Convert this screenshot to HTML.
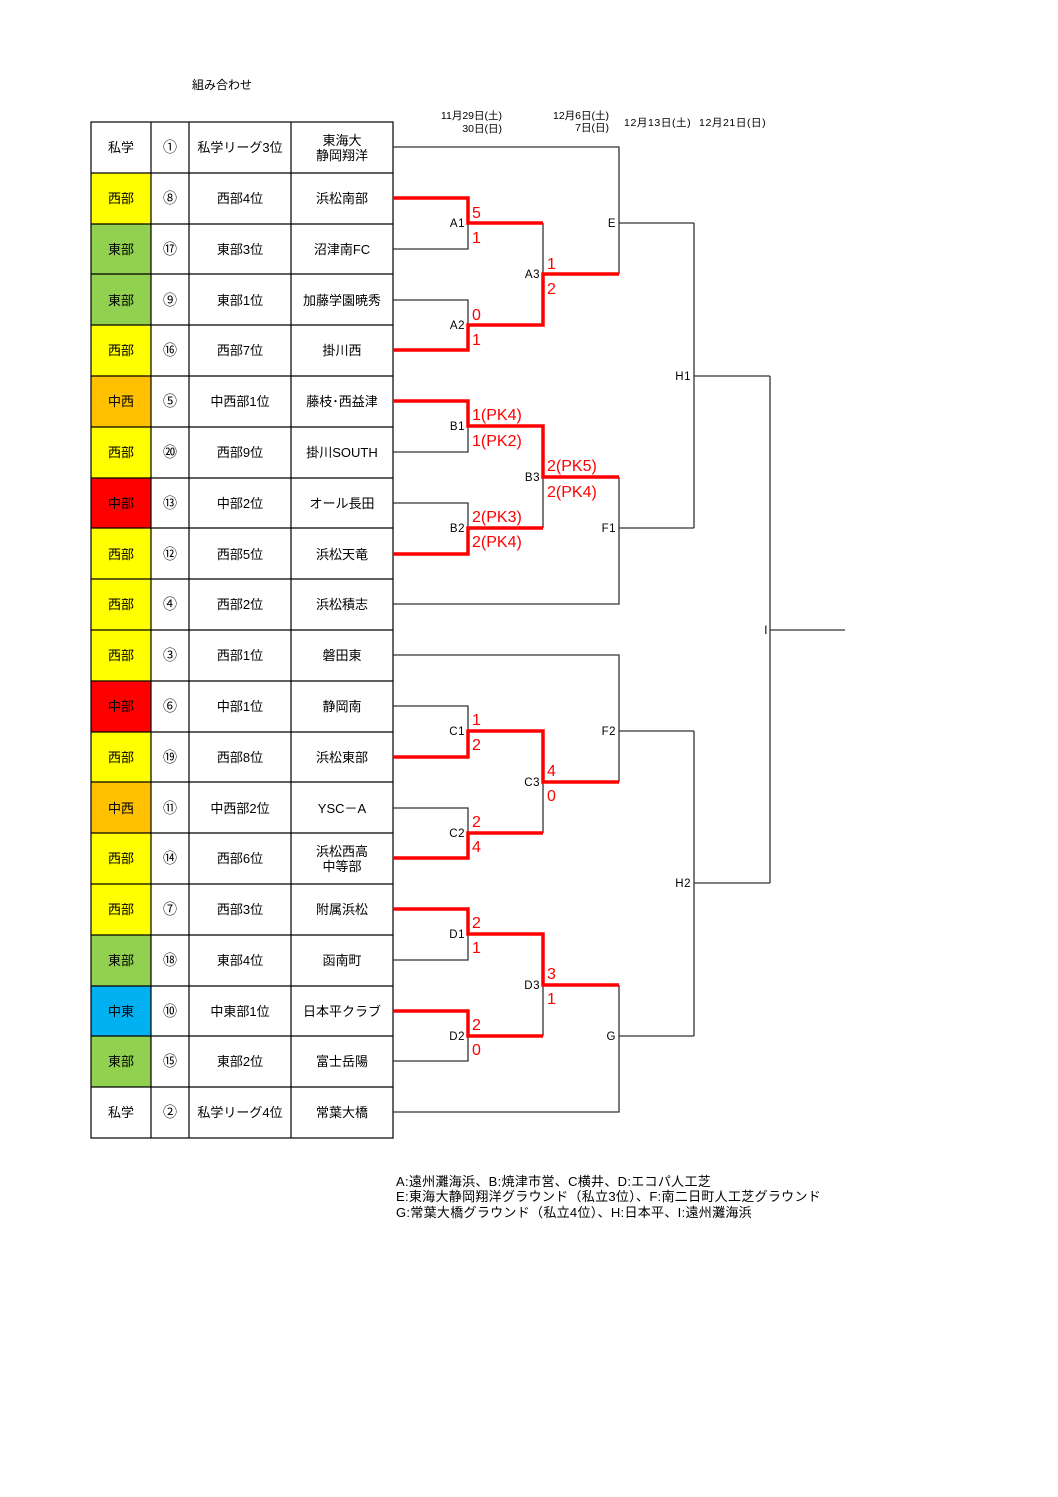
<!DOCTYPE html>
<html><head><meta charset="utf-8"><style>
body{margin:0;background:#fff;}
svg{display:block;font-family:"Liberation Sans","Noto Sans CJK JP",sans-serif;}
.cj{font-family:"Noto Sans CJK JP",sans-serif;}
</style></head><body>
<svg width="1058" height="1497" viewBox="0 0 1058 1497" xmlns="http://www.w3.org/2000/svg">
<rect width="1058" height="1497" fill="#fff"/>
<text x="192" y="89" font-size="12">組み合わせ</text>
<g font-size="10.5" fill="#000">
<text x="502" y="119" text-anchor="end">11月29日(土)</text>
<text x="502" y="132" text-anchor="end">30日(日)</text>
<text x="609" y="119" text-anchor="end">12月6日(土)</text>
<text x="609" y="131" text-anchor="end">7日(日)</text>
<text x="624" y="126" letter-spacing="0.6">12月13日(土)</text>
<text x="699" y="126" letter-spacing="0.6">12月21日(日)</text>
</g>
<g>
<rect x="91" y="173" width="60" height="51" fill="#ffff00"/>
<rect x="91" y="224" width="60" height="50" fill="#92d050"/>
<rect x="91" y="274" width="60" height="51" fill="#92d050"/>
<rect x="91" y="325" width="60" height="51" fill="#ffff00"/>
<rect x="91" y="376" width="60" height="51" fill="#ffc000"/>
<rect x="91" y="427" width="60" height="51" fill="#ffff00"/>
<rect x="91" y="478" width="60" height="50" fill="#ff0000"/>
<rect x="91" y="528" width="60" height="51" fill="#ffff00"/>
<rect x="91" y="579" width="60" height="51" fill="#ffff00"/>
<rect x="91" y="630" width="60" height="51" fill="#ffff00"/>
<rect x="91" y="681" width="60" height="51" fill="#ff0000"/>
<rect x="91" y="732" width="60" height="50" fill="#ffff00"/>
<rect x="91" y="782" width="60" height="51" fill="#ffc000"/>
<rect x="91" y="833" width="60" height="51" fill="#ffff00"/>
<rect x="91" y="884" width="60" height="51" fill="#ffff00"/>
<rect x="91" y="935" width="60" height="51" fill="#92d050"/>
<rect x="91" y="986" width="60" height="50" fill="#00b0f0"/>
<rect x="91" y="1036" width="60" height="51" fill="#92d050"/>
</g>
<g stroke="#000" stroke-width="1.2" fill="none">
<rect x="91" y="122" width="302" height="1016"/>
<line x1="151" y1="122" x2="151" y2="1138"/>
<line x1="189" y1="122" x2="189" y2="1138"/>
<line x1="291" y1="122" x2="291" y2="1138"/>
<path d="M91 173H393M91 224H393M91 274H393M91 325H393M91 376H393M91 427H393M91 478H393M91 528H393M91 579H393M91 630H393M91 681H393M91 732H393M91 782H393M91 833H393M91 884H393M91 935H393M91 986H393M91 1036H393M91 1087H393"/>
</g>
<g font-size="13" text-anchor="middle" fill="#000">
<text x="121" y="152">私学</text><text x="240" y="152">私学リーグ3位</text><text x="342" y="145">東海大</text><text x="342" y="160">静岡翔洋</text>
<text x="121" y="203">西部</text><text x="240" y="203">西部4位</text><text x="342" y="203">浜松南部</text>
<text x="121" y="254">東部</text><text x="240" y="254">東部3位</text><text x="342" y="254">沼津南FC</text>
<text x="121" y="305">東部</text><text x="240" y="305">東部1位</text><text x="342" y="305">加藤学園暁秀</text>
<text x="121" y="355">西部</text><text x="240" y="355">西部7位</text><text x="342" y="355">掛川西</text>
<text x="121" y="406">中西</text><text x="240" y="406">中西部1位</text><text x="342" y="406">藤枝･西益津</text>
<text x="121" y="457">西部</text><text x="240" y="457">西部9位</text><text x="342" y="457">掛川SOUTH</text>
<text x="121" y="508">中部</text><text x="240" y="508">中部2位</text><text x="342" y="508">オール長田</text>
<text x="121" y="559">西部</text><text x="240" y="559">西部5位</text><text x="342" y="559">浜松天竜</text>
<text x="121" y="609">西部</text><text x="240" y="609">西部2位</text><text x="342" y="609">浜松積志</text>
<text x="121" y="660">西部</text><text x="240" y="660">西部1位</text><text x="342" y="660">磐田東</text>
<text x="121" y="711">中部</text><text x="240" y="711">中部1位</text><text x="342" y="711">静岡南</text>
<text x="121" y="762">西部</text><text x="240" y="762">西部8位</text><text x="342" y="762">浜松東部</text>
<text x="121" y="813">中西</text><text x="240" y="813">中西部2位</text><text x="342" y="813">YSC－A</text>
<text x="121" y="863">西部</text><text x="240" y="863">西部6位</text><text x="342" y="856">浜松西高</text><text x="342" y="871">中等部</text>
<text x="121" y="914">西部</text><text x="240" y="914">西部3位</text><text x="342" y="914">附属浜松</text>
<text x="121" y="965">東部</text><text x="240" y="965">東部4位</text><text x="342" y="965">函南町</text>
<text x="121" y="1016">中東</text><text x="240" y="1016">中東部1位</text><text x="342" y="1016">日本平クラブ</text>
<text x="121" y="1066">東部</text><text x="240" y="1066">東部2位</text><text x="342" y="1066">富士岳陽</text>
<text x="121" y="1117">私学</text><text x="240" y="1117">私学リーグ4位</text><text x="342" y="1117">常葉大橋</text>
</g>
<g font-size="14" text-anchor="middle" fill="#000" class="cj">
<text x="170" y="152">①</text><text x="170" y="203">⑧</text><text x="170" y="254">⑰</text><text x="170" y="305">⑨</text><text x="170" y="355">⑯</text>
<text x="170" y="406">⑤</text><text x="170" y="457">⑳</text><text x="170" y="508">⑬</text><text x="170" y="559">⑫</text><text x="170" y="609">④</text>
<text x="170" y="660">③</text><text x="170" y="711">⑥</text><text x="170" y="762">⑲</text><text x="170" y="813">⑪</text><text x="170" y="863">⑭</text>
<text x="170" y="914">⑦</text><text x="170" y="965">⑱</text><text x="170" y="1016">⑩</text><text x="170" y="1066">⑮</text><text x="170" y="1117">②</text>
</g>
<g stroke="#333" stroke-width="1.3" fill="none">
<path d="M393 147H619V274"/>
<path d="M393 249H468V223"/>
<path d="M393 300H468V325"/>
<path d="M543 223V274"/>
<path d="M619 223H694"/>
<path d="M393 452H468V426"/>
<path d="M393 503H468V528"/>
<path d="M543 477V528"/>
<path d="M393 604H619V477"/>
<path d="M619 528H694"/>
<path d="M694 223V528"/>
<path d="M694 376H770"/>
<path d="M393 655H619V782"/>
<path d="M393 706H468V731"/>
<path d="M393 808H468V833"/>
<path d="M543 782V833"/>
<path d="M619 731H694"/>
<path d="M393 960H468V934"/>
<path d="M393 1061H468V1036"/>
<path d="M543 985V1036"/>
<path d="M393 1112H619V985"/>
<path d="M619 1036H694"/>
<path d="M694 731V1036"/>
<path d="M694 883H770"/>
<path d="M770 376V883"/>
<path d="M770 630H845"/>
</g>
<g stroke="#ff0000" stroke-width="3.5" fill="none" stroke-linejoin="miter">
<path d="M393 198H468V223H543"/>
<path d="M393 350H468V325H543V274H619"/>
<path d="M393 401H468V426H543V477H619"/>
<path d="M393 554H468V528H543"/>
<path d="M393 757H468V731H543V782H619"/>
<path d="M393 858H468V833H543"/>
<path d="M393 909H468V934H543V985H619"/>
<path d="M393 1011H468V1036H543"/>
</g>
<g font-size="11.5" text-anchor="end" fill="#000" letter-spacing="0.5">
<text x="465" y="227">A1</text><text x="465" y="329">A2</text><text x="540" y="278">A3</text><text x="616" y="227">E</text>
<text x="465" y="430">B1</text><text x="465" y="532">B2</text><text x="540" y="481">B3</text><text x="616" y="532">F1</text>
<text x="691" y="380">H1</text><text x="768" y="634">I</text>
<text x="465" y="735">C1</text><text x="465" y="837">C2</text><text x="540" y="786">C3</text><text x="616" y="735">F2</text>
<text x="465" y="938">D1</text><text x="465" y="1040">D2</text><text x="540" y="989">D3</text><text x="616" y="1040">G</text>
<text x="691" y="887">H2</text>
</g>
<g font-size="16" fill="#ff0000">
<text x="472" y="218">5</text><text x="472" y="243">1</text>
<text x="472" y="320">0</text><text x="472" y="345">1</text>
<text x="547" y="269">1</text><text x="547" y="294">2</text>
<text x="472" y="420">1(PK4)</text><text x="472" y="446">1(PK2)</text>
<text x="472" y="522">2(PK3)</text><text x="472" y="547">2(PK4)</text>
<text x="547" y="471">2(PK5)</text><text x="547" y="497">2(PK4)</text>
<text x="472" y="725">1</text><text x="472" y="750">2</text>
<text x="472" y="827">2</text><text x="472" y="852">4</text>
<text x="547" y="776">4</text><text x="547" y="801">0</text>
<text x="472" y="928">2</text><text x="472" y="953">1</text>
<text x="472" y="1030">2</text><text x="472" y="1055">0</text>
<text x="547" y="979">3</text><text x="547" y="1004">1</text>
</g>
<g font-size="13" fill="#000" letter-spacing="0.3">
<text x="396" y="1186">A:遠州灘海浜、B:焼津市営、C横井、D:エコパ人工芝</text>
<text x="396" y="1201">E:東海大静岡翔洋グラウンド（私立3位）、F:南二日町人工芝グラウンド</text>
<text x="396" y="1217">G:常葉大橋グラウンド（私立4位）、H:日本平、I:遠州灘海浜</text>
</g>
</svg>
</body></html>
